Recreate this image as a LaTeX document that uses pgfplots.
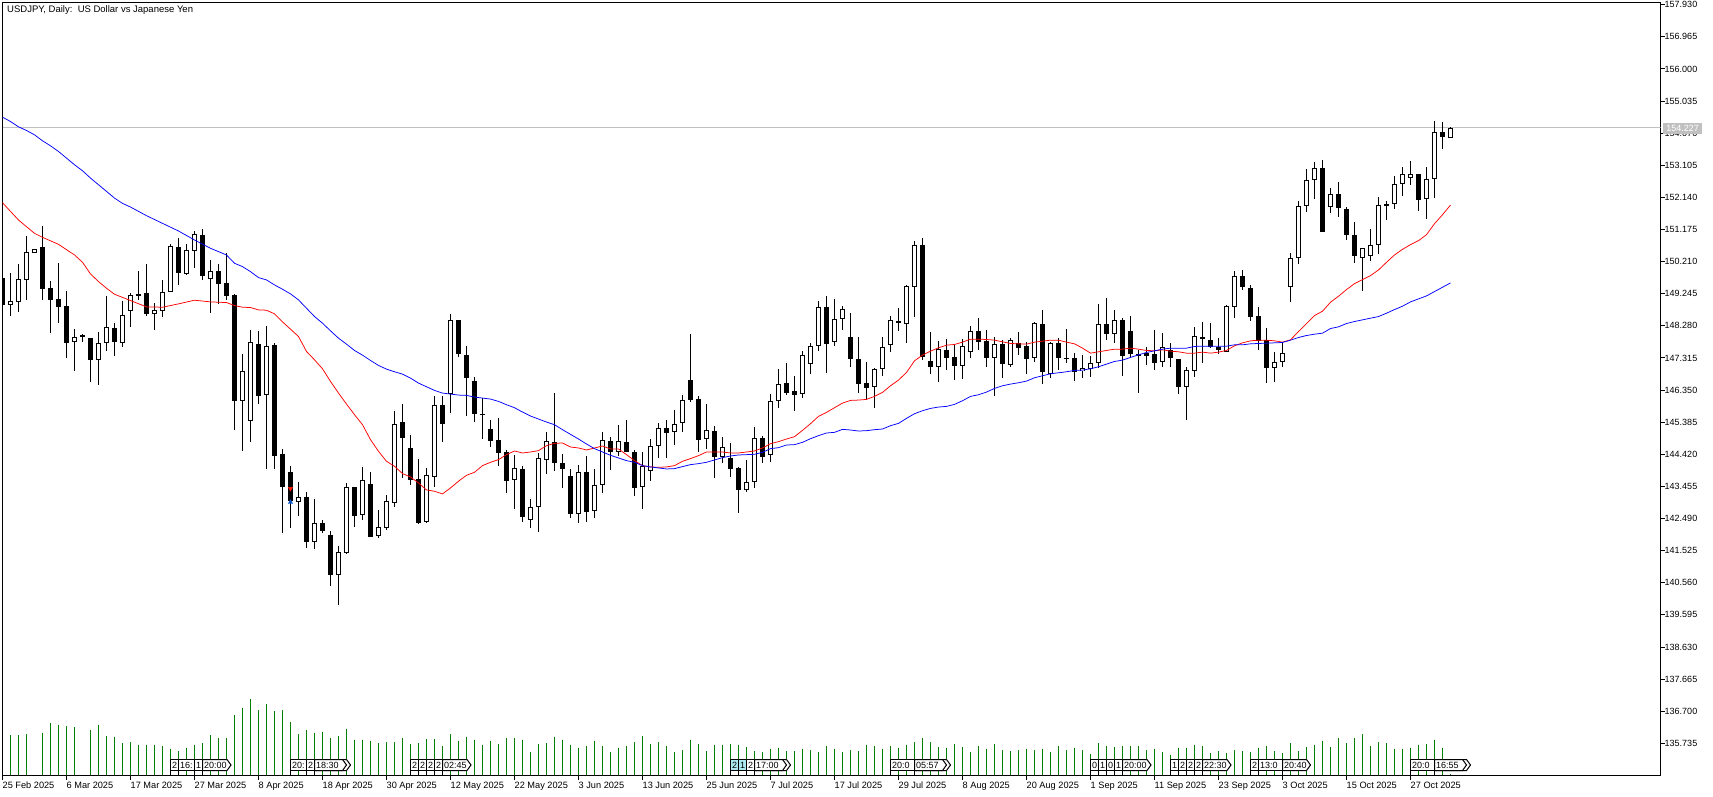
\documentclass[border=0pt]{standalone}
\usepackage{pgfplots}
\usepackage{pgfplotstable}
\usepackage{fontspec}
\setmainfont{Liberation Sans}
\pgfplotsset{compat=1.18}
\definecolor{volgreen}{RGB}{0,128,0}
\definecolor{tagcyan}{RGB}{172,232,240}
\definecolor{bidgray}{RGB}{192,192,192}
\pgfplotstableread{
i o h l c
0 149.72 150.01 148.76 148.92
1 148.92 149.87 148.59 149.02
2 149.01 150.14 148.70 149.68
3 149.67 150.98 149.06 150.49
4 150.48 150.60 150.46 150.58
5 150.65 151.28 149.06 149.40
6 149.41 149.63 148.07 149.07
7 149.09 150.17 148.37 148.86
8 148.88 149.33 147.30 147.78
9 147.81 148.19 146.93 147.94
10 147.94 148.03 147.80 148.00
11 147.92 147.92 146.60 147.24
12 147.24 148.10 146.51 147.76
13 147.76 149.18 147.53 148.24
14 148.22 148.37 147.38 147.78
15 147.78 149.03 147.65 148.60
16 148.74 149.27 148.25 149.20
17 149.17 149.93 149.06 149.23
18 149.27 150.14 148.58 148.64
19 148.65 148.97 148.16 148.75
20 148.74 149.66 148.55 149.29
21 149.31 150.74 149.31 150.67
22 150.65 150.92 149.51 149.87
23 149.85 150.74 149.81 150.55
24 150.54 151.13 150.02 151.03
25 151.01 151.19 149.66 149.78
26 149.70 150.26 148.67 149.92
27 149.93 150.14 148.94 149.54
28 149.57 150.47 149.06 149.18
29 149.21 149.24 145.16 146.03
30 146.01 147.44 144.53 146.92
31 145.41 148.16 144.80 147.79
32 147.74 148.13 145.94 146.18
33 146.19 148.28 143.99 147.67
34 147.71 147.77 143.99 144.38
35 144.44 144.59 142.07 143.45
36 143.90 144.08 142.22 143.03
37 142.98 143.60 142.58 143.14
38 143.15 143.30 141.62 141.80
39 141.78 143.09 141.59 142.36
40 142.37 142.46 142.07 142.13
41 142.01 142.13 140.45 140.78
42 140.79 141.68 139.88 141.49
43 141.45 143.57 141.41 143.44
44 143.45 143.45 142.25 142.58
45 142.59 144.05 142.46 143.65
46 143.54 143.90 141.95 141.95
47 141.96 142.76 141.92 142.24
48 142.22 143.21 142.16 143.02
49 142.95 145.73 142.85 145.33
50 145.40 145.94 143.72 144.92
51 144.62 145.01 143.51 143.66
52 143.69 144.29 142.34 142.37
53 142.38 144.02 142.37 143.80
54 143.73 146.18 143.43 145.90
55 145.90 146.18 144.80 145.32
56 146.23 148.64 145.67 148.45
57 148.46 148.46 147.35 147.44
58 147.41 147.68 145.58 146.72
59 146.63 146.75 145.40 145.64
60 145.63 146.12 144.89 145.61
61 145.19 145.46 144.65 144.83
62 144.86 145.52 144.08 144.47
63 144.50 144.56 143.27 143.63
64 143.64 144.41 142.79 144.01
65 143.99 144.08 142.40 142.55
66 142.44 143.09 142.22 142.84
67 142.83 144.47 142.10 144.31
68 144.24 145.10 143.84 144.82
69 144.80 146.27 143.93 144.17
70 144.17 144.44 143.42 143.99
71 143.78 143.99 142.52 142.64
72 142.62 144.11 142.37 143.89
73 143.90 144.38 142.40 142.70
74 142.71 143.99 142.52 143.50
75 143.49 145.10 143.27 144.85
76 144.83 144.95 143.96 144.50
77 144.48 145.31 144.38 144.82
78 144.79 145.46 144.50 144.50
79 144.50 144.56 143.18 143.42
80 143.43 144.50 142.79 144.07
81 143.91 144.89 143.63 144.67
82 144.66 145.37 144.32 145.21
83 145.21 145.46 144.32 145.07
84 145.08 145.76 144.71 145.33
85 145.35 146.21 145.10 146.05
86 146.66 148.04 146.00 146.06
87 146.09 146.18 144.50 144.86
88 144.87 145.94 144.59 145.15
89 145.13 145.28 143.72 144.35
90 144.33 144.95 144.17 144.64
91 144.32 144.77 143.75 143.99
92 144.02 144.05 142.67 143.36
93 143.36 144.26 143.30 143.59
94 143.58 145.25 143.42 144.91
95 144.92 144.98 144.17 144.35
96 144.39 146.24 144.20 146.02
97 146.01 146.99 145.82 146.53
98 146.57 147.17 146.21 146.27
99 146.33 146.78 145.73 146.21
100 146.22 147.53 146.12 147.40
101 147.12 147.77 146.84 147.67
102 147.69 149.03 147.53 148.84
103 148.85 149.18 146.87 147.74
104 147.78 149.09 147.68 148.48
105 148.50 148.88 148.16 148.78
106 147.95 148.67 147.05 147.29
107 147.29 147.95 146.27 146.54
108 146.57 147.20 146.06 146.42
109 146.43 147.01 145.82 146.99
110 146.97 147.95 146.78 147.64
111 147.69 148.58 147.50 148.45
112 148.43 148.82 148.13 148.38
113 148.35 149.51 147.77 149.47
114 149.46 150.83 148.55 150.70
115 150.71 150.92 147.26 147.35
116 147.23 148.10 146.84 147.05
117 147.03 147.83 146.60 147.58
118 147.56 147.89 146.96 147.32
119 147.35 147.71 146.66 147.08
120 147.06 147.89 146.69 147.67
121 147.48 148.28 147.32 148.12
122 148.13 148.52 147.56 147.80
123 147.83 148.16 147.05 147.32
124 147.30 147.95 146.18 147.73
125 147.74 147.86 146.72 147.14
126 147.11 147.92 147.05 147.85
127 147.76 148.10 147.41 147.62
128 147.68 147.80 146.84 147.29
129 147.30 148.40 147.20 148.36
130 148.34 148.76 146.54 146.90
131 146.82 147.80 146.72 147.76
132 147.77 147.92 146.96 147.32
133 147.32 148.19 147.17 147.29
134 147.32 147.47 146.63 146.90
135 146.91 147.41 146.72 147.01
136 146.99 147.38 146.75 147.16
137 147.15 148.94 147.02 148.33
138 148.34 149.12 147.86 148.04
139 148.04 148.76 147.77 148.45
140 148.46 148.52 146.78 147.38
141 148.13 148.58 147.32 147.44
142 147.44 147.56 146.27 147.38
143 147.46 147.65 147.11 147.38
144 147.44 148.16 146.96 147.17
145 147.18 148.07 147.05 147.64
146 147.56 147.77 147.05 147.32
147 147.29 147.29 146.24 146.45
148 146.43 147.05 145.46 146.95
149 146.91 148.25 146.75 147.97
150 147.95 148.40 147.17 147.89
151 147.86 148.37 147.62 147.65
152 147.65 147.92 147.44 147.56
153 147.51 148.91 147.50 148.87
154 148.86 149.93 148.52 149.77
155 149.78 149.96 149.36 149.45
156 149.42 149.51 148.43 148.55
157 148.58 148.85 147.56 147.83
158 147.84 148.22 146.57 147.00
159 147.01 147.50 146.58 147.20
160 147.19 147.78 147.03 147.47
161 149.44 150.47 149.01 150.32
162 150.31 152.04 150.15 151.88
163 151.87 153.00 151.71 152.66
164 152.65 153.21 152.10 153.02
165 153.03 153.27 151.11 151.11
166 151.85 152.43 151.68 152.24
167 152.24 152.61 151.56 151.81
168 151.80 151.86 150.87 151.02
169 151.02 151.41 150.18 150.39
170 150.31 150.62 149.34 150.62
171 150.37 151.20 150.24 150.71
172 150.70 152.16 150.45 151.91
173 151.94 152.04 151.47 151.90
174 151.93 152.79 151.80 152.54
175 152.53 153.06 152.19 152.84
176 152.71 153.24 152.52 152.84
177 152.85 152.85 151.74 152.07
178 152.08 153.06 151.50 152.69
179 152.68 154.44 152.13 154.10
180 154.10 154.41 153.60 153.97
181 153.94 154.26 153.93 154.22
}\candles
\pgfplotstableread{
i v
1 41
2 41
3 42
5 43
6 53
7 51
8 50
9 49
11 46
12 51
13 40
14 39
15 33
16 34
17 31
18 31
19 31
20 30
21 27
22 25
23 28
24 31
25 33
26 41
27 38
28 38
29 61
30 68
31 77
32 66
33 72
34 65
35 66
36 54
37 42
38 46
39 43
40 44
41 38
42 40
43 47
44 36
45 36
46 35
47 33
48 34
49 34
50 38
51 32
52 33
53 37
54 37
55 30
56 42
57 35
58 39
59 36
60 31
61 35
62 32
63 38
64 38
65 36
66 24
67 32
68 33
69 39
70 36
71 31
72 28
73 30
74 35
75 30
76 24
77 28
78 30
79 34
80 40
81 32
82 34
83 30
84 24
85 26
86 36
87 32
88 25
89 31
90 31
91 32
92 31
93 29
94 25
95 24
96 27
97 28
98 25
99 25
100 27
101 26
102 24
103 30
104 27
105 24
106 26
107 25
108 31
109 30
110 27
111 30
112 28
113 31
114 34
115 38
116 34
117 29
118 28
119 32
120 29
121 24
122 30
123 27
124 32
125 26
126 25
127 26
128 27
129 26
130 27
131 24
132 30
133 26
134 28
135 26
136 22
137 33
138 30
139 29
140 30
141 30
142 30
143 26
144 27
145 24
146 21
147 28
148 28
149 31
150 30
151 23
152 25
153 23
154 26
155 25
156 24
157 28
158 30
159 25
160 23
161 33
162 25
163 29
164 31
165 35
166 29
167 38
168 33
169 38
170 42
171 30
172 34
173 33
174 27
175 27
176 28
177 31
178 32
179 36
180 28
181 2
}\volumes
\pgfplotstableread{
i p
0 151.98
2 151.46
4 151.06
5 150.94
7 150.73
9 150.41
10 150.19
11 149.84
12 149.61
13 149.41
14 149.23
16 149.04
18 148.85
20 148.84
22 148.94
24 149.05
26 149.00
28 148.98
29 148.89
30 148.84
31 148.83
32 148.76
33 148.75
34 148.64
35 148.40
37 147.96
38 147.51
39 147.26
40 146.99
41 146.61
42 146.26
43 145.93
44 145.61
45 145.31
46 144.86
47 144.51
48 144.21
49 144.06
50 143.84
51 143.74
52 143.56
53 143.35
54 143.31
55 143.23
56 143.41
57 143.61
58 143.79
59 143.88
60 144.08
61 144.18
62 144.26
63 144.41
64 144.52
65 144.46
66 144.49
67 144.53
68 144.68
69 144.75
70 144.76
71 144.64
72 144.61
73 144.55
74 144.61
75 144.67
76 144.58
77 144.58
78 144.41
79 144.23
80 144.08
81 144.04
82 144.03
83 144.04
84 144.08
85 144.21
86 144.29
87 144.38
88 144.49
89 144.49
90 144.49
91 144.46
92 144.46
93 144.49
94 144.52
95 144.61
96 144.74
97 144.80
98 144.88
99 144.95
100 145.14
101 145.34
102 145.56
103 145.68
104 145.82
105 145.96
106 146.04
107 146.05
108 146.07
109 146.16
110 146.28
111 146.48
112 146.65
113 146.88
114 147.23
115 147.40
116 147.52
117 147.62
118 147.70
119 147.72
120 147.79
121 147.88
122 147.88
123 147.87
124 147.85
125 147.80
126 147.75
127 147.74
128 147.73
129 147.79
130 147.82
131 147.85
132 147.85
133 147.79
134 147.74
135 147.61
136 147.46
137 147.50
138 147.54
139 147.58
140 147.58
141 147.61
142 147.58
143 147.54
144 147.53
145 147.56
146 147.52
147 147.50
148 147.46
149 147.46
150 147.49
151 147.46
152 147.49
153 147.54
154 147.68
155 147.77
156 147.83
157 147.85
158 147.85
159 147.83
160 147.79
161 147.86
162 148.11
163 148.35
164 148.59
165 148.72
166 148.99
167 149.17
168 149.37
169 149.55
170 149.67
171 149.79
172 149.96
173 150.19
174 150.41
175 150.58
176 150.72
177 150.84
178 151.02
179 151.35
180 151.62
181 151.91
}\redma
\pgfplotstableread{
i p
0 154.55
1 154.42
2 154.26
3 154.15
4 154.02
5 153.84
6 153.69
7 153.52
8 153.32
9 153.12
10 152.94
11 152.72
12 152.52
13 152.32
14 152.12
15 151.96
16 151.85
18 151.59
20 151.36
22 151.13
24 150.86
26 150.61
28 150.41
29 150.16
30 150.06
31 149.91
32 149.73
33 149.66
34 149.51
35 149.38
36 149.24
37 149.06
38 148.81
39 148.56
40 148.36
41 148.13
42 147.91
43 147.73
44 147.54
45 147.40
46 147.24
47 147.09
48 146.98
49 146.90
50 146.83
51 146.71
52 146.56
53 146.45
54 146.34
55 146.26
56 146.23
57 146.20
58 146.19
59 146.14
60 146.11
61 146.08
62 146.01
63 145.91
64 145.82
65 145.69
66 145.57
67 145.48
68 145.39
69 145.31
70 145.16
71 145.02
72 144.88
73 144.73
74 144.59
75 144.49
76 144.39
77 144.31
78 144.23
79 144.18
80 144.08
81 144.04
82 144.01
83 143.98
84 143.99
85 144.05
86 144.11
87 144.14
88 144.18
89 144.25
90 144.32
91 144.37
92 144.40
93 144.41
94 144.42
95 144.48
96 144.59
97 144.62
98 144.70
99 144.71
100 144.78
101 144.89
102 144.98
103 145.06
104 145.08
105 145.17
106 145.15
107 145.12
108 145.13
109 145.16
110 145.18
111 145.28
112 145.35
113 145.50
114 145.64
115 145.73
116 145.80
117 145.84
118 145.86
119 145.92
120 146.03
121 146.16
122 146.21
123 146.29
124 146.40
125 146.48
126 146.53
127 146.57
128 146.62
129 146.72
130 146.78
131 146.84
132 146.87
133 146.90
134 146.94
135 146.95
136 146.99
137 147.05
138 147.13
139 147.21
140 147.25
141 147.33
142 147.41
143 147.48
144 147.53
145 147.58
146 147.61
147 147.61
148 147.61
149 147.66
150 147.67
151 147.67
152 147.67
153 147.67
154 147.71
155 147.71
156 147.74
157 147.75
158 147.76
159 147.77
160 147.78
161 147.85
162 147.93
163 147.99
164 148.03
165 148.06
166 148.20
167 148.25
168 148.35
169 148.41
170 148.46
171 148.51
172 148.56
173 148.66
174 148.77
175 148.87
176 149.00
177 149.09
178 149.18
179 149.31
180 149.44
181 149.57
}\bluema
% trade tags, given in page points (1pt = 1 pixel of the reference)
\newcommand{\tagrect}[4][white]{% fill, x1, x2, text
  \draw[black,line width=1pt,fill=#1] (#2pt,25.5pt) rectangle (#3pt,36.5pt);
  \draw[black,line width=1pt] (#2pt,25.5pt) -- (#2pt,20.5pt);
  \node[anchor=base west,inner sep=0pt,font=\fontsize{9}{9}\selectfont] at (#2pt+1.5pt,27.5pt) {#4};}
\newcommand{\tagarrow}[3]{% x1, tip, text
  \draw[black,line width=1pt,fill=white] (#1pt,25.5pt) -- (#1pt,36.5pt) -- (#2pt-4pt,36.5pt) -- (#2pt,31pt) -- (#2pt-4pt,25.5pt) -- cycle;
  \draw[black,line width=1pt] (#1pt,25.5pt) -- (#1pt,20.5pt);
  \node[anchor=base west,inner sep=0pt,font=\fontsize{9}{9}\selectfont] at (#1pt+1.5pt,27.5pt) {#3};}
\begin{document}
\begin{tikzpicture}[x=1pt,y=1pt]
\useasboundingbox (0,0) rectangle (1713pt,796pt);
% volumes
\begin{axis}[at={(2.5pt,20.5pt)},anchor=south west,scale only axis,width=1658pt,height=773pt,
  xmin=0,xmax=207.25,ymin=0,ymax=773,hide axis]
\addplot[ycomb,color=volgreen,line width=1pt,mark=none] table[x=i,y=v] {\volumes};
\end{axis}
% price chart
\begin{axis}[at={(2.5pt,20.5pt)},anchor=south west,scale only axis,width=1658pt,height=773pt,
  xmin=0,xmax=207.25,ymin=134.769,ymax=157.996,
  axis line style={black,line width=1pt},
  tick style={black,line width=1pt},
  major tick length=4pt,
  tick align=outside,
  xtick pos=bottom,ytick pos=right,
  xtick={0,8,...,176},
  xticklabels={25 Feb 2025,6 Mar 2025,17 Mar 2025,27 Mar 2025,8 Apr 2025,18 Apr 2025,30 Apr 2025,12 May 2025,22 May 2025,3 Jun 2025,13 Jun 2025,25 Jun 2025,7 Jul 2025,17 Jul 2025,29 Jul 2025,8 Aug 2025,20 Aug 2025,1 Sep 2025,11 Sep 2025,23 Sep 2025,3 Oct 2025,15 Oct 2025,27 Oct 2025},
  x tick label style={anchor=north west,inner sep=0pt,font=\fontsize{9.2}{9.2}\selectfont},
  xticklabel shift=2pt,
  ytick={135.735,136.7,137.665,138.63,139.595,140.56,141.525,142.49,143.455,144.42,145.385,146.35,147.315,148.28,149.245,150.21,151.175,152.14,153.105,154.07,155.035,156,156.965,157.93},
  yticklabel pos=right,
  y tick label style={anchor=west,inner sep=0pt,font=\fontsize{9}{9}\selectfont,
    /pgf/number format/.cd,fixed,fixed zerofill,precision=3,assume math mode=true,1000 sep={}},
  yticklabel shift=0pt]
% bid line
\addplot[bidgray,line width=1pt,forget plot] coordinates {(0,154.227)(207.25,154.227)};
% wicks
\addplot[draw=none,mark=none,forget plot,error bars/.cd,y dir=both,y explicit,error mark=none,
  error bar style={draw=black,line width=1pt,solid}]
  table[x=i,y expr=(\thisrow{h}+\thisrow{l})/2,y error expr=(\thisrow{h}-\thisrow{l})/2] {\candles};
% bodies
\addplot[draw=none,mark=none,forget plot,error bars/.cd,y dir=both,y explicit,error mark=none,
  error bar style={draw=black,line width=5pt,solid}]
  table[x=i,y expr=(\thisrow{o}+\thisrow{c})/2,y error expr=abs(\thisrow{c}-\thisrow{o})/2] {\candles};
\addplot[draw=none,mark=none,forget plot,error bars/.cd,y dir=both,y explicit,error mark=none,
  error bar style={draw=white,line width=3pt,solid}]
  table[x=i,y expr=(\thisrow{o}+\thisrow{c})/2,y error expr={max(0,(\thisrow{c}-\thisrow{o})/2-0.03)}] {\candles};
% deal arrows
\addplot[only marks,mark=triangle*,mark size=2.5pt,mark options={rotate=180,fill=red!80!orange,draw=red!80!orange},forget plot] coordinates {(36,143.39)};
\addplot[only marks,mark=triangle*,mark size=2.5pt,mark options={fill=blue!60!cyan!80!black,draw=blue!60!cyan!80!black},forget plot] coordinates {(36,142.98)};
% moving averages
\addplot[red,line width=0.75pt,mark=none] table[x=i,y=p] {\redma};
\addplot[blue,line width=0.75pt,mark=none] table[x=i,y=p] {\bluema};
\end{axis}
% title
\node[anchor=west,inner sep=0pt,font=\fontsize{9.5}{9.5}\selectfont] at (7pt,786pt) {USDJPY, Daily:\ \ US Dollar vs Japanese Yen};
% bid tag
\node[anchor=center,fill=bidgray,text=white,inner sep=0pt,minimum width=39pt,minimum height=11pt,font=\fontsize{9}{9}\selectfont] at (1682.5pt,667.3pt) {154.227};
% trade tags
\tagrect{170.5}{178.5}{2}\tagrect{178.5}{194.5}{16:}\tagrect{194.5}{202.5}{1}\tagarrow{202.5}{231}{20:00}
\tagrect{290.5}{306.5}{20:}\tagrect{306.5}{314.5}{2}\tagarrow{314.5}{350.5}{}\tagarrow{314.5}{346.5}{18:30}
\tagrect{410.5}{418.5}{2}\tagrect{418.5}{426.5}{2}\tagrect{426.5}{434.5}{2}\tagrect{434.5}{442.5}{2}\tagarrow{442.5}{471}{02:45}
\tagrect[tagcyan]{730.5}{738.5}{2}\tagrect[tagcyan]{738.5}{746.5}{1}\tagrect{746.5}{754.5}{2}\tagarrow{754.5}{790.5}{}\tagarrow{754.5}{786.5}{17:00}
\tagrect{890.5}{914.5}{20:0}\tagarrow{914.5}{950.5}{}\tagarrow{914.5}{946.5}{05:57}
\tagrect{1090.5}{1098.5}{0}\tagrect{1098.5}{1106.5}{1}\tagrect{1106.5}{1114.5}{0}\tagrect{1114.5}{1122.5}{1}\tagarrow{1122.5}{1151}{20:00}
\tagrect{1170.5}{1178.5}{1}\tagrect{1178.5}{1186.5}{2}\tagrect{1186.5}{1194.5}{2}\tagrect{1194.5}{1202.5}{2}\tagarrow{1202.5}{1231}{22:30}
\tagrect{1250.5}{1258.5}{2}\tagrect{1258.5}{1282.5}{13:0}\tagarrow{1282.5}{1310.5}{20:40}
\tagrect{1410.5}{1434.5}{20:0}\tagarrow{1434.5}{1470.5}{}\tagarrow{1434.5}{1466.5}{16:55}
\end{tikzpicture}
\end{document}
